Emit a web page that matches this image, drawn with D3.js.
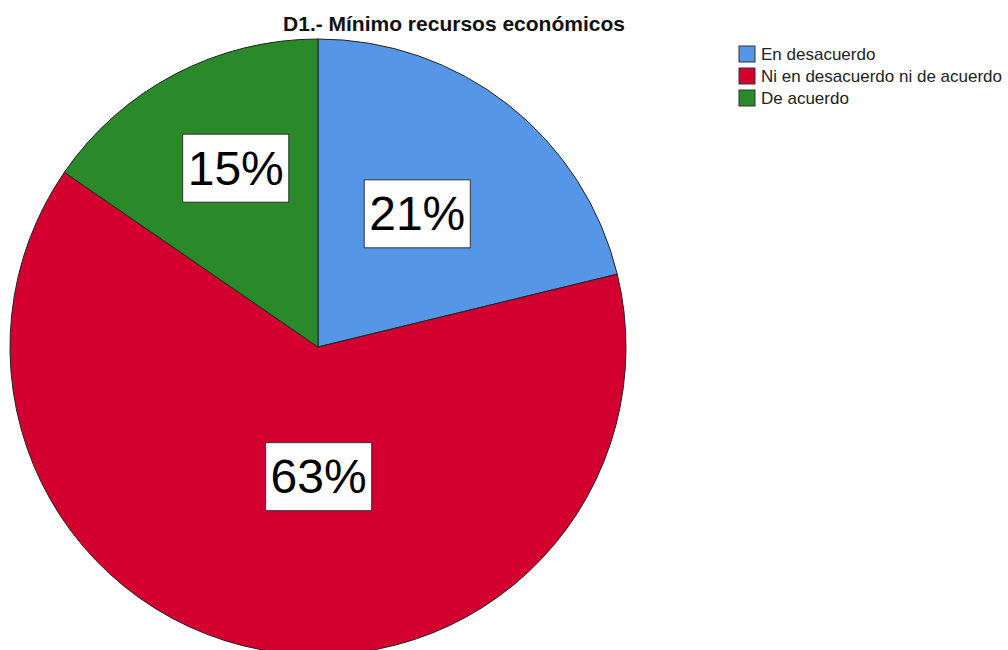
<!DOCTYPE html>
<html>
<head>
<meta charset="utf-8">
<script src="https://cdn.jsdelivr.net/npm/d3@7"></script>
<style>
  body { margin: 0; background: #fff; }
  svg { font-family: Arial, "Liberation Sans", sans-serif; }
</style>
</head>
<body>
<svg id="chart" width="1008" height="650"></svg>
<script>
// data (percent of respondents)
var categories = ["En desacuerdo", "Ni en desacuerdo ni de acuerdo", "De acuerdo"];
var percents = [21.2, 63.4, 15.4];
var colors = ["#5596e6", "#d3002f", "#2a8a2a"];
var title = "D1.- Mínimo recursos económicos";

// label placement inside each slice: [fraction of radius, fraction of slice angle]
var labelPos = [[0.54, 0.48], [0.42, 0.453], [0.64, 0.555]];

var cx = 318, cy = 347, radius = 308;

var svg = d3.select("#chart");

var pie = d3.pie().sort(null).value(function(d){ return d; });
var arcs = pie(percents);
var arc = d3.arc().innerRadius(0).outerRadius(radius);

var g = svg.append("g").attr("transform", "translate(" + cx + "," + cy + ")");

g.selectAll("path")
  .data(arcs)
  .enter()
  .append("path")
  .attr("d", arc)
  .attr("fill", function(d, i){ return colors[i]; })
  .attr("stroke", "#222")
  .attr("stroke-width", 1);

// percentage labels in white boxes
var labels = g.selectAll("g.lbl")
  .data(arcs)
  .enter()
  .append("g")
  .attr("class", "lbl")
  .attr("transform", function(d, i){
    var p = labelPos[i];
    var a = d.startAngle + (d.endAngle - d.startAngle) * p[1];
    var r = radius * p[0];
    return "translate(" + (Math.sin(a) * r) + "," + (-Math.cos(a) * r) + ")";
  });

labels.append("rect");
labels.append("text")
  .attr("text-anchor", "middle")
  .attr("dy", "0.35em")
  .attr("font-size", 48)
  .attr("fill", "#000")
  .text(function(d){ return Math.round(d.value) + "%"; });

labels.each(function(){
  var grp = d3.select(this);
  var bb = grp.select("text").node().getBBox();
  grp.select("rect")
    .attr("x", bb.x - 5)
    .attr("y", bb.y + bb.height / 2 - 34)
    .attr("width", bb.width + 10)
    .attr("height", 68)
    .attr("fill", "#fff")
    .attr("stroke", "#333")
    .attr("stroke-width", 1);
});

// title
svg.append("text")
  .attr("x", 454)
  .attr("y", 31)
  .attr("text-anchor", "middle")
  .attr("font-size", 21)
  .attr("font-weight", "bold")
  .attr("fill", "#111")
  .text(title);

// legend
var legend = svg.append("g").attr("transform", "translate(739,46)");
var items = legend.selectAll("g")
  .data(categories)
  .enter()
  .append("g")
  .attr("transform", function(d, i){ return "translate(0," + (i * 22) + ")"; });

items.append("rect")
  .attr("width", 16)
  .attr("height", 16)
  .attr("fill", function(d, i){ return colors[i]; })
  .attr("stroke", "#333")
  .attr("stroke-width", 1);

items.append("text")
  .attr("x", 22)
  .attr("y", 8)
  .attr("dy", "0.35em")
  .attr("font-size", 17)
  .attr("fill", "#222")
  .text(function(d){ return d; });
</script>
</body>
</html>
